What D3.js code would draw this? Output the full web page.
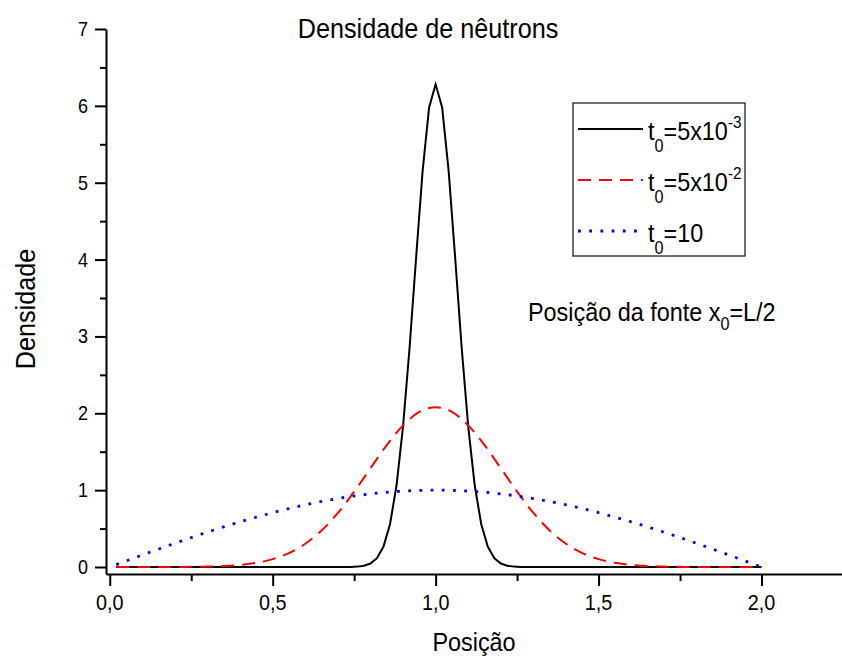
<!DOCTYPE html>
<html>
<head>
<meta charset="utf-8">
<script src="https://cdn.jsdelivr.net/npm/d3@7"></script>
<style>
  body { margin: 0; background: #fff; }
  text { font-family: "Liberation Sans", Arial, sans-serif; fill: #000; }
</style>
</head>
<body>
<svg id="chart" width="842" height="662"></svg>
<script>
//values
const blackX = [0.02, 0.70, 0.74, 0.76, 0.78, 0.80, 0.82, 0.84, 0.86, 0.88, 0.90, 0.92, 0.94, 0.96, 0.98,
  1.00, 1.02, 1.04, 1.06, 1.08, 1.10, 1.12, 1.14, 1.16, 1.18, 1.20, 1.22, 1.24, 1.26, 1.30, 2.00];
const blackY = [0, 0, 0.001, 0.005, 0.016, 0.045, 0.115, 0.266, 0.557, 1.06, 1.83, 2.85, 4.02, 5.15, 5.98,
  6.28, 5.98, 5.15, 4.02, 2.85, 1.83, 1.06, 0.557, 0.266, 0.115, 0.045, 0.016, 0.005, 0.001, 0, 0];

const redX = [0.02, 0.10, 0.20, 0.25, 0.30, 0.35, 0.40, 0.45, 0.50, 0.55, 0.60, 0.65, 0.70, 0.75, 0.80, 0.85, 0.90, 0.95,
  1.00, 1.05, 1.10, 1.15, 1.20, 1.25, 1.30, 1.35, 1.40, 1.45, 1.50, 1.55, 1.60, 1.65, 1.70, 1.75, 1.80, 1.90, 2.00];
const redY = [0, 0, 0.001, 0.002, 0.006, 0.013, 0.027, 0.054, 0.102, 0.181, 0.303, 0.476, 0.703, 0.980, 1.285, 1.586, 1.843, 2.018,
  2.08, 2.018, 1.843, 1.586, 1.285, 0.980, 0.703, 0.476, 0.303, 0.181, 0.102, 0.054, 0.027, 0.013, 0.006, 0.002, 0.001, 0, 0];

const blueX = [0.02, 0.10, 0.20, 0.30, 0.40, 0.50, 0.60, 0.70, 0.80, 0.90, 1.00,
  1.10, 1.20, 1.30, 1.40, 1.50, 1.60, 1.70, 1.80, 1.90, 2.00];
const blueY = [0.031, 0.156, 0.309, 0.454, 0.588, 0.707, 0.809, 0.891, 0.951, 0.988, 1.0,
  0.988, 0.951, 0.891, 0.809, 0.707, 0.588, 0.454, 0.309, 0.156, 0];

const xMajor = [0, 0.5, 1.0, 1.5, 2.0];
const xMinor = [0.25, 0.75, 1.25, 1.75];
const yMajor = [0, 1, 2, 3, 4, 5, 6, 7];
const yMinor = [0.5, 1.5, 2.5, 3.5, 4.5, 5.5, 6.5];

const series = [
  {name: "5x10", exp: "-3", xs: blackX, ys: blackY, color: "#000000", dash: null, width: 2},
  {name: "5x10", exp: "-2", xs: redX, ys: redY, color: "#ff0000", dash: "13,8", width: 2},
  {name: "10", exp: null, xs: blueX, ys: blueY, color: "#0000ff", dash: "2.8,8.4", width: 2.8}
];

const svg = d3.select("#chart");

//scales
const x = d3.scaleLinear().domain([-0.0115, 2.247]).range([106, 842]);
const y = d3.scaleLinear().domain([-0.091, 7]).range([574, 29]);

//squeezed text helper (the original font is a bit narrow)
const label = function(g, tx, ty, size, anchor, rot) {
  return g.append("text")
    .attr("transform", `translate(${tx},${ty}) rotate(${rot || 0}) scale(0.9,1)`)
    .attr("text-anchor", anchor)
    .style("font-size", size + "px");
};

//x axis
const fmt = (d) => d3.format(".1f")(d).replace(".", ",");
const xAxis = d3.axisBottom(x).tickValues(xMajor).tickSize(12).tickSizeOuter(0).tickFormat("");
const gx = svg.append("g").attr("transform", "translate(0,574)").call(xAxis);
gx.append("g").call(d3.axisBottom(x).tickValues(xMinor).tickSize(7).tickSizeOuter(0).tickFormat(""))
  .select(".domain").remove();
gx.selectAll("path, line").attr("stroke", "#000").attr("stroke-width", 2);
xMajor.forEach((d) => label(svg, x(d), 610, 22, "middle").text(fmt(d)));

//y axis
const yAxis = d3.axisLeft(y).tickValues(yMajor).tickSize(11).tickSizeOuter(0).tickFormat("");
const gy = svg.append("g").attr("transform", "translate(106,0)").call(yAxis);
gy.append("g").call(d3.axisLeft(y).tickValues(yMinor).tickSize(6).tickSizeOuter(0).tickFormat(""))
  .select(".domain").remove();
gy.selectAll("path, line").attr("stroke", "#000").attr("stroke-width", 2);
yMajor.forEach((d) => label(svg, 88, y(d) + 7, 20, "end").text(d));

//lines
series.forEach((s) => {
  const pts = s.xs.map((v, i) => [v, s.ys[i]]);
  svg.append("path")
    .datum(pts)
    .attr("fill", "none")
    .attr("stroke", s.color)
    .attr("stroke-width", s.width)
    .attr("stroke-dasharray", s.dash)
    .attr("d", d3.line()
      .x((d) => x(d[0]))
      .y((d) => y(d[1]))
      .curve(s.dash ? d3.curveMonotoneX : d3.curveLinear));
});

//titles
label(svg, 428, 38, 28, "middle").text("Densidade de nêutrons");
label(svg, 474, 651, 26, "middle").text("Posição");
label(svg, 35, 309, 28, "middle", -90).text("Densidade");

const note = label(svg, 528, 321, 26, "start");
note.append("tspan").text("Posição da fonte x");
note.append("tspan").attr("dy", 9).style("font-size", "18px").text("0");
note.append("tspan").attr("dy", -9).text("=L/2");

//legend
svg.append("rect")
  .attr("x", 573).attr("y", 103).attr("width", 172).attr("height", 153)
  .attr("fill", "none").attr("stroke", "#222").attr("stroke-width", 1.3);

series.forEach((s, i) => {
  const ly = 129 + i * 51;
  svg.append("line")
    .attr("x1", 578).attr("x2", 643).attr("y1", ly).attr("y2", ly)
    .attr("stroke", s.color).attr("stroke-width", s.width)
    .attr("stroke-dasharray", s.dash);
  const t = label(svg, 648, ly + 11, 26, "start");
  t.append("tspan").text("t");
  t.append("tspan").attr("dy", 12).style("font-size", "18px").text("0");
  t.append("tspan").attr("dy", -12).text("=" + s.name);
  if (s.exp) t.append("tspan").attr("dy", -12).style("font-size", "17px").text(s.exp);
});
</script>
</body>
</html>
